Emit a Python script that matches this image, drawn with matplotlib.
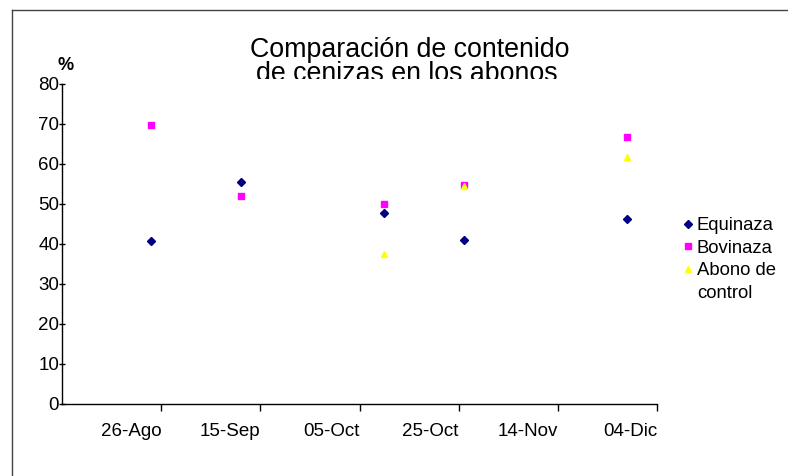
import matplotlib
matplotlib.use("Agg")
import matplotlib.pyplot as plt
import matplotlib.dates as mdates
from matplotlib.lines import Line2D
from matplotlib.patches import Rectangle
import datetime as dt

plt.rcParams['font.family'] = ['Liberation Sans', 'DejaVu Sans']

# ---- data ----
fechas = [dt.date(2007, 8, 24), dt.date(2007, 9, 11), dt.date(2007, 10, 10),
          dt.date(2007, 10, 26), dt.date(2007, 11, 28)]
equinaza = [40.8, 55.4, 47.8, 41.0, 46.3]
bovinaza = [69.8, 52.1, 50.0, 54.8, 66.8]
fechas_control = [dt.date(2007, 10, 10), dt.date(2007, 10, 26), dt.date(2007, 11, 28)]
abono_control = [37.4, 54.5, 61.8]

tick_fechas = [dt.date(2007, 8, 26), dt.date(2007, 9, 15), dt.date(2007, 10, 5),
               dt.date(2007, 10, 25), dt.date(2007, 11, 14), dt.date(2007, 12, 4)]
tick_labels = ['26-Ago', '15-Sep', '05-Oct', '25-Oct', '14-Nov', '04-Dic']
y_ticks = [0, 10, 20, 30, 40, 50, 60, 70, 80]
titulo = ['Comparación de contenido', 'de cenizas en los abonos']

W, H = 788, 476
fig = plt.figure(figsize=(W / 100, H / 100), dpi=100)
ax = fig.add_axes([62 / W, 1 - 404 / H, (657 - 62) / W, (404 - 84) / H])

h1, = ax.plot(fechas, equinaza, linestyle='none', marker='D', markersize=4,
              color='#000080')
h2, = ax.plot(fechas, bovinaza, linestyle='none', marker='s', markersize=4.5,
              color='#FF00FF')
h3, = ax.plot(fechas_control, abono_control, linestyle='none', marker='^', markersize=5,
              color='#FFFF00')

ax.set_xlim(mdates.date2num(dt.date(2007, 8, 6)), mdates.date2num(dt.date(2007, 12, 4)))
ax.set_ylim(0, 80)
ax.set_xticks([mdates.date2num(d) for d in tick_fechas])
ax.set_xticklabels(tick_labels, ha='right')
ax.set_yticks(y_ticks)
ax.tick_params(axis='x', direction='out', length=5, width=1, pad=8.5, labelsize=13.5)
ax.tick_params(axis='y', direction='inout', length=4, width=1, pad=0, labelsize=13.5)
for s in ['top', 'right']:
    ax.spines[s].set_visible(False)
for s in ['left', 'bottom']:
    ax.spines[s].set_linewidth(1)
    ax.spines[s].set_color('black')

fig.text(66 / W, 1 - 66 / H, '%', ha='center', va='center', fontsize=13, fontweight='bold')

# title (second line clipped at the bottom like the original)
fig.text(410 / W, 1 - 57 / H, titulo[0], ha='center', va='baseline', fontsize=19.3)
t2 = fig.text(407 / W, 1 - 81 / H, titulo[1], ha='center', va='baseline', fontsize=19.3)
clip = Rectangle((0, 1 - 79 / H), 1, 79 / H, transform=fig.transFigure)
t2.set_clip_path(clip)

blank = Line2D([], [], linestyle='none')
leg = ax.legend([h1, h2, h3, blank], ['Equinaza', 'Bovinaza', 'Abono de', 'control'],
                loc='upper left', bbox_to_anchor=(683 / W, 1 - 217 / H),
                bbox_transform=fig.transFigure, frameon=False, fontsize=13.3,
                handlelength=0.5, handletextpad=0.25, labelspacing=0.31,
                borderaxespad=0, borderpad=0)

# outer chart frame
fig.add_artist(Line2D([12 / W, 12 / W], [0, 1 - 10 / H], transform=fig.transFigure,
                      color='#444444', linewidth=1))
fig.add_artist(Line2D([12 / W, 1], [1 - 10 / H, 1 - 10 / H], transform=fig.transFigure,
                      color='#444444', linewidth=1))

fig.savefig('out.png', dpi=100)
